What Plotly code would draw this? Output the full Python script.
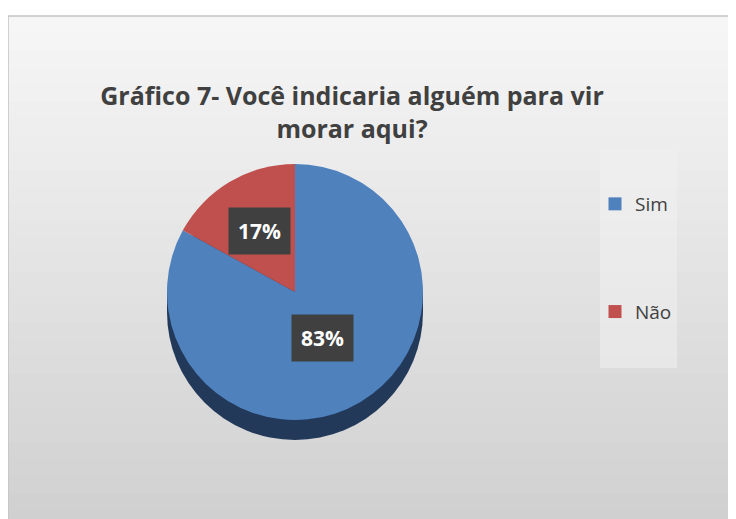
import math
import plotly.graph_objects as go

categories = ["Sim", "Não"]
values = [83, 17]
colors = ["#4f81bd", "#c0504d"]
title_text = "Gráfico 7- Você indicaria alguém para vir<br>morar aqui?"

W, H = 736, 519
OFF = 8  # page body margin


def px(x):
    return (x - OFF) / W


def py(y):
    return 1 - (y - OFF) / H


# pie geometry (screen pixels)
cxp, cyp, R = 295, 292, 128
depth = 20

fig = go.Figure()

fig.add_trace(go.Pie(
    labels=categories, values=values, sort=False, direction="clockwise", rotation=0,
    marker=dict(colors=colors, line=dict(width=0)),
    textinfo="none", hoverinfo="label+percent", showlegend=False,
    domain=dict(x=[px(cxp - R), px(cxp + R)], y=[py(cyp + R), py(cyp - R)]),
))

# legend entries
for c, col in zip(categories, colors):
    fig.add_trace(go.Scatter(
        x=[None], y=[None], mode="markers", name=c, legendgroup=c,
        marker=dict(symbol="square", size=13, color=col),
    ))

shapes = []
# page background gradient
n = 30
top_col = (246, 246, 246)
bot_col = (208, 208, 208)
y0, y1 = 16, H + OFF
for i in range(n):
    t = i / (n - 1)
    c = tuple(int(round(a + (b - a) * t)) for a, b in zip(top_col, bot_col))
    ya = y0 + (y1 - y0) * i / n
    yb = y0 + (y1 - y0) * (i + 1) / n + 1
    shapes.append(dict(type="rect", xref="paper", yref="paper", layer="below",
                       x0=px(8), x1=1, y0=max(py(yb), 0), y1=py(ya),
                       fillcolor="rgb(%d,%d,%d)" % c, line=dict(width=0)))
shapes.append(dict(type="rect", xref="paper", yref="paper", layer="below",
                   x0=px(8), x1=1.01, y0=-0.01, y1=py(16),
                   fillcolor="rgba(0,0,0,0)", line=dict(color="#c4c4c4", width=1.5)))
# pie depth (3D side)
shapes.append(dict(type="circle", xref="paper", yref="paper", layer="below",
                   x0=px(cxp - R), x1=px(cxp + R), y0=py(cyp + R + depth), y1=py(cyp - R + depth),
                   fillcolor="#22395a", line=dict(width=0)))
shapes.append(dict(type="rect", xref="paper", yref="paper", layer="below",
                   x0=px(cxp - R), x1=px(cxp + R), y0=py(cyp + depth), y1=py(cyp),
                   fillcolor="#22395a", line=dict(width=0)))
# legend box
shapes.append(dict(type="rect", xref="paper", yref="paper", layer="below",
                   x0=px(600), x1=px(677), y0=py(368), y1=py(151),
                   fillcolor="rgba(240,240,240,0.55)", line=dict(width=0)))

annotations = []
label_radius = [0.42, 0.55]
cum = 0
total = sum(values)
for v, f in zip(values, label_radius):
    mid = (cum + v / 2) / total * 2 * math.pi
    cum += v
    lx = cxp + f * R * math.sin(mid)
    ly = cyp - f * R * math.cos(mid)
    annotations.append(dict(
        x=px(lx), y=py(ly), xref="paper", yref="paper", showarrow=False,
        text="<b>%d%%</b>" % round(v / total * 100),
        font=dict(family="Open Sans", size=21, color="white"),
        bgcolor="#404040", borderpad=9,
    ))

fig.update_layout(
    width=W, height=H,
    margin=dict(l=0, r=0, t=0, b=0),
    paper_bgcolor="white", plot_bgcolor="rgba(0,0,0,0)",
    title=dict(text="<b>%s</b>" % title_text, x=px(352), xanchor="center",
               y=py(105), yanchor="top",
               font=dict(family="Open Sans", size=25, color="#404040")),
    xaxis=dict(visible=False), yaxis=dict(visible=False),
    legend=dict(x=px(595), y=py(185), xanchor="left", yanchor="top",
                bgcolor="rgba(0,0,0,0)", tracegroupgap=80, itemwidth=30,
                font=dict(family="Open Sans", size=19, color="#404040")),
    shapes=shapes, annotations=annotations,
)

fig.write_html("out.html")
